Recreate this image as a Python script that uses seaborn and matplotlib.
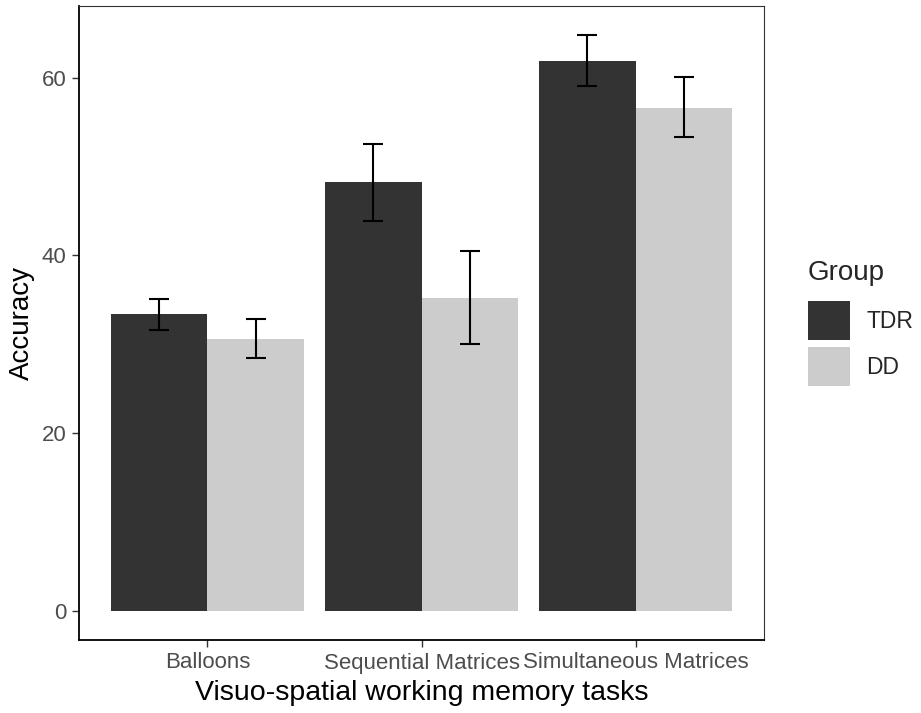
import pandas as pd
import numpy as np

import matplotlib
matplotlib.use("Agg")
import matplotlib.pyplot as plt
import seaborn as sns


tasks = ["Balloons", "Sequential Matrices", "Simultaneous Matrices"]
groups = ["TDR", "DD"]

tdr_mean = [33.4, 48.2, 61.9]
tdr_low = [31.6, 43.9, 59.1]
tdr_high = [35.1, 52.5, 64.8]

dd_mean = [30.6, 35.2, 56.6]
dd_low = [28.5, 30.0, 53.3]
dd_high = [32.8, 40.5, 60.1]

y_ticks = [0, 20, 40, 60]

df = pd.DataFrame({
    "task": tasks * 2,
    "Group": ["TDR"] * 3 + ["DD"] * 3,
    "accuracy": tdr_mean + dd_mean,
    "low": tdr_low + dd_low,
    "high": tdr_high + dd_high,
})

sns.set_style("white")
plt.rcParams["font.family"] = ["Liberation Sans", "DejaVu Sans"]

fig, ax = plt.subplots(figsize=(9.21, 7.13), dpi=100)
fig.subplots_adjust(left=79 / 921, right=764 / 921, top=1 - 6 / 713, bottom=1 - 640 / 713)

palette = {"TDR": "#333333", "DD": "#CCCCCC"}
sns.barplot(data=df, x="task", y="accuracy", hue="Group", hue_order=groups,
            order=tasks, palette=palette, width=0.9, gap=0, errorbar=None,
            saturation=1, ax=ax, linewidth=0)

# error bars centred on each bar
for grp, cont in zip(groups, ax.containers):
    sub = df[df["Group"] == grp].set_index("task").loc[tasks]
    xs = [b.get_x() + b.get_width() / 2 for b in cont]
    yerr = [sub["accuracy"] - sub["low"], sub["high"] - sub["accuracy"]]
    ax.errorbar(xs, sub["accuracy"], yerr=yerr, fmt="none", ecolor="black",
                elinewidth=1.5, capsize=7.2, capthick=1.5)

ax.set_xlim(-0.6, 2.6)
ax.set_ylim(-3.24, 68.04)
ax.set_yticks(y_ticks)
ax.tick_params(axis="both", which="both", length=5, width=1, color="#333333",
               labelsize=16, labelcolor="#4D4D4D", direction="out",
               left=True, bottom=True, pad=4)

for side in ["left", "bottom"]:
    ax.spines[side].set_color("black")
    ax.spines[side].set_linewidth(1.3)
for side in ["top", "right"]:
    ax.spines[side].set_color("#333333")
    ax.spines[side].set_linewidth(0.8)

ax.set_xlabel("Visuo-spatial working memory tasks", fontsize=20.5, color="black", labelpad=5)
ax.set_ylabel("Accuracy", fontsize=20, color="black", labelpad=5)

leg = ax.legend(title="Group", loc="upper left",
                bbox_to_anchor=(808 / 921, 1 - 260 / 713), bbox_transform=fig.transFigure,
                frameon=False, fontsize=16.5, title_fontsize=20,
                handlelength=1.83, handleheight=2.25, handletextpad=0.72,
                labelspacing=0.3, borderaxespad=0, borderpad=0)
leg._legend_box.align = "left"
leg._legend_box.sep = 11

fig.savefig("out.png", dpi=100)
